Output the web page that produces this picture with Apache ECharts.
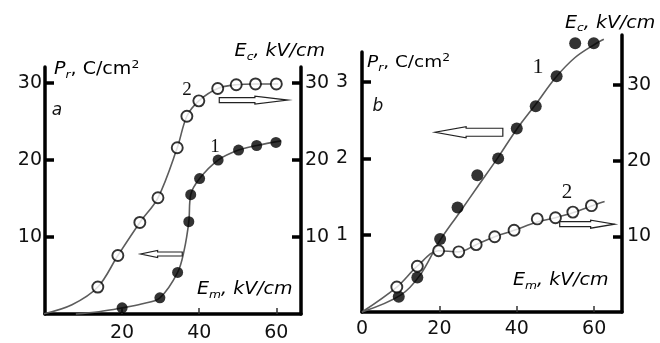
<!DOCTYPE html>
<html><head><meta charset="utf-8">
<script src="https://cdn.jsdelivr.net/npm/echarts@6/dist/echarts.min.js"></script>
<style>html,body{margin:0;padding:0;background:#fff}#c{width:660px;height:343px}</style>
</head><body><div id="c"></div>
<script>
// ---------- Panel a ----------
const aTicksX = [20, 40, 60];
const aTicksY = [10, 20, 30];
// curve 1 (filled circles, P_r, left axis)
const aEm1 = [20.0, 29.8, 34.4, 37.3, 37.8, 40.1, 44.9, 50.2, 54.9, 59.9];
const aPr1 = [0.8, 2.1, 5.4, 12.0, 15.5, 17.6, 20.0, 21.3, 21.9, 22.3];
// curve 2 (open circles, E_c, right axis)
const aEm2 = [13.7, 18.9, 24.6, 29.3, 34.3, 36.8, 39.9, 44.8, 49.6, 54.6, 60.0];
const aEc2 = [3.5, 7.6, 11.9, 15.1, 21.6, 25.7, 27.7, 29.3, 29.8, 29.9, 29.9];
// drawn fit curves
const aFit1X = [8, 14, 20, 25, 29.8, 34.4, 36.1, 37.3, 37.8, 40.1, 44.9, 50.2, 54.9, 61.3];
const aFit1Y = [0, 0.3, 0.8, 1.3, 2.1, 5.4, 8.3, 12.0, 15.5, 17.6, 20.0, 21.3, 21.9, 22.5];
const aFit2X = [-0.5, 7, 13.7, 18.9, 24.6, 29.3, 34.3, 36.8, 39.9, 44.8, 49.6, 54.6, 60.5];
const aFit2Y = [0, 1.2, 3.5, 7.6, 11.9, 15.1, 21.6, 25.7, 27.7, 29.3, 29.8, 29.9, 29.9];
// arrows: [tail x, tip x, y]
const aArrowEc = [45.2, 63.0, 27.8];
const aArrowPr = [35.6, 24.8, 7.8];

// ---------- Panel b ----------
const bLabelsX = [0, 20, 40, 60];
const bTicksX = [20, 40, 60];
const bTicksYL = [1, 2, 3];
const bTicksYR = [10, 20, 30];
const bEm1 = [9.5, 14.3, 20.2, 24.7, 29.8, 35.2, 40.0, 44.9, 50.3, 55.1, 59.9];
const bPr1 = [0.2, 0.45, 0.95, 1.36, 1.78, 2.0, 2.39, 2.68, 3.07, 3.5, 3.5];
const bEm2 = [9.0, 14.3, 19.8, 25.0, 29.5, 34.3, 39.3, 45.3, 50.0, 54.5, 59.3];
const bEc2 = [3.3, 6.05, 8.1, 7.95, 8.9, 9.95, 10.8, 12.3, 12.45, 13.2, 14.05];
const bFit1X = [0, 10, 15, 20, 25, 30, 35, 40, 45, 50, 55, 60, 62.5];
const bFit1Y = [0, 0.22, 0.48, 0.92, 1.28, 1.64, 2.0, 2.38, 2.71, 3.05, 3.31, 3.48, 3.55];
const bFit2X = [0, 9.0, 14.3, 19.8, 25.0, 29.5, 34.3, 39.3, 45.3, 50.0, 54.5, 59.3, 62.7];
const bFit2Y = [0, 3.3, 6.05, 8.1, 7.95, 8.9, 9.95, 10.8, 11.9, 12.45, 13.1, 14.0, 14.6];
const bArrowPr = [36.4, 18.9, 2.34];
const bArrowEc = [51.1, 65.3, 11.6];

const zip = (xs, ys) => xs.map((x, i) => [x, ys[i]]);
const FONT = 'DejaVu Sans';
const SERIF = 'Liberation Serif';
const INK = '#111';
const CURVE = '#5c5c5c';

function xAxisOf(grid, max, labels, ticks, margin) {
  return {
    gridIndex: grid, type: 'value', min: 0, max: max,
    axisLine: { show: true, onZero: false, lineStyle: { color: '#000', width: 3.5 } },
    axisTick: { show: true, inside: true, length: 6, customValues: ticks, lineStyle: { color: '#333', width: 1.5 } },
    axisLabel: { show: true, customValues: labels, margin: margin, fontSize: 19, fontFamily: FONT, color: INK },
    splitLine: { show: false }
  };
}
function yAxisOf(grid, pos, max, vals, margin) {
  return {
    gridIndex: grid, type: 'value', position: pos, min: 0, max: max,
    axisLine: { show: true, onZero: false, lineStyle: { color: '#000', width: 3.5 } },
    axisTick: { show: true, inside: true, length: 9, customValues: vals, lineStyle: { color: '#000', width: 3.5 } },
    axisLabel: { show: true, customValues: vals, margin: margin, fontSize: 19, fontFamily: FONT, color: INK },
    splitLine: { show: false }
  };
}
function fitLine(xi, yi, data) {
  return { type: 'line', xAxisIndex: xi, yAxisIndex: yi, data: data, smooth: 0.35, clip: false,
    showSymbol: false, symbol: 'none', silent: true, z: 2,
    lineStyle: { color: CURVE, width: 1.6 } };
}
function dots(xi, yi, data, filled, size) {
  return { type: 'scatter', xAxisIndex: xi, yAxisIndex: yi, data: data, symbolSize: size, z: 3, silent: true, clip: false,
    itemStyle: filled ? { color: '#000' } : { color: '#fff', borderColor: '#000', borderWidth: 1.9 } };
}
function arrow(xi, yi, item, hs, hh, hl) {
  return {
    type: 'custom', xAxisIndex: xi, yAxisIndex: yi, data: [item], z: 4, silent: true, clip: false,
    renderItem: function (params, api) {
      const y = api.value(2);
      const p1 = api.coord([api.value(0), y]);
      const p2 = api.coord([api.value(1), y]);
      const d = Math.sign(p2[0] - p1[0]);
      const bx = p2[0] - d * hl, cy = p1[1];
      return { type: 'polygon',
        shape: { points: [[p1[0], cy - hs], [bx, cy - hs], [bx, cy - hh], [p2[0], cy], [bx, cy + hh], [bx, cy + hs], [p1[0], cy + hs]] },
        style: { fill: '#fff', stroke: '#222', lineWidth: 1.2 } };
    }
  };
}
function richFor(fs) {
  return {
    i: { fontFamily: FONT, fontStyle: 'italic', fontSize: fs, color: INK, lineHeight: fs + 4 },
    n: { fontFamily: FONT, fontSize: fs, color: INK, lineHeight: fs + 4 },
    si: { fontFamily: FONT, fontStyle: 'italic', fontSize: Math.round(fs * 0.65), color: INK, verticalAlign: 'bottom' },
    sp: { fontFamily: FONT, fontSize: Math.round(fs * 0.65), color: INK, verticalAlign: 'top' }
  };
}
function label(x, y, text, fs, align) {
  return { type: 'text', x: x, y: y, scaleX: 1.12, z: 10, silent: true,
    style: { text: text, rich: richFor(fs), align: align || 'left', verticalAlign: 'middle' } };
}
function plain(x, y, text, fs, family, italic) {
  return { type: 'text', x: x, y: y, z: 10, silent: true,
    style: { text: text, fontSize: fs, fontFamily: family, fontStyle: italic ? 'italic' : 'normal', fill: INK, align: 'center', verticalAlign: 'middle' } };
}

const chart = echarts.init(document.getElementById('c'), null, { renderer: 'canvas' });
chart.setOption({
  animation: false,
  backgroundColor: '#fff',
  grid: [
    { left: 45, right: 359, top: 67, bottom: 29 },
    { left: 362, right: 38, top: 52, bottom: 31 },
    { left: 362, right: 38, top: 35, bottom: 31 }
  ],
  xAxis: [
    xAxisOf(0, 66.4, aTicksX, aTicksX, 10),
    xAxisOf(1, 67.2, bLabelsX, bTicksX, 8),
    { gridIndex: 2, type: 'value', min: 0, max: 67.2, show: false }
  ],
  yAxis: [
    yAxisOf(0, 'left', 32.1, aTicksY, 3),
    yAxisOf(0, 'right', 32.1, aTicksY, 4),
    yAxisOf(1, 'left', 3.385, bTicksYL, 14),
    yAxisOf(2, 'right', 36.6, bTicksYR, 5)
  ],
  series: [
    fitLine(0, 0, zip(aFit1X, aFit1Y)),
    fitLine(0, 1, zip(aFit2X, aFit2Y)),
    dots(0, 0, zip(aEm1, aPr1), true, 11),
    dots(0, 1, zip(aEm2, aEc2), false, 11),
    arrow(0, 1, aArrowEc, 2.5, 4, 33),
    arrow(0, 0, aArrowPr, 2, 3.5, 17),
    fitLine(1, 2, zip(bFit1X, bFit1Y)),
    fitLine(2, 3, zip(bFit2X, bFit2Y)),
    dots(1, 2, zip(bEm1, bPr1), true, 12),
    dots(2, 3, zip(bEm2, bEc2), false, 11),
    arrow(1, 2, bArrowPr, 4, 5.5, 31),
    arrow(2, 3, bArrowEc, 2.5, 4, 24)
  ],
  graphic: [
    label(54, 70, '{i|P}{si|r}{n|, C/cm}{sp|2}', 17),
    label(325, 52, '{i|E}{si|c}{i|, kV/cm}', 17, 'right'),
    label(197, 290, '{i|E}{si|m}{i|, kV/cm}', 17),
    plain(57, 111, 'a', 17, FONT, true),
    plain(187, 90, '2', 19, SERIF, false),
    plain(215, 147, '1', 19, SERIF, false),
    label(367, 63, '{i|P}{si|r}{n|, C/cm}{sp|2}', 16.5),
    label(565, 23.5, '{i|E}{si|c}{i|, kV/cm}', 17),
    label(513, 281, '{i|E}{si|m}{i|, kV/cm}', 17),
    plain(378, 107, 'b', 17, FONT, true),
    plain(538, 67, '1', 22, SERIF, false),
    plain(567, 192, '2', 21, SERIF, false)
  ]
});
</script>
</body></html>
